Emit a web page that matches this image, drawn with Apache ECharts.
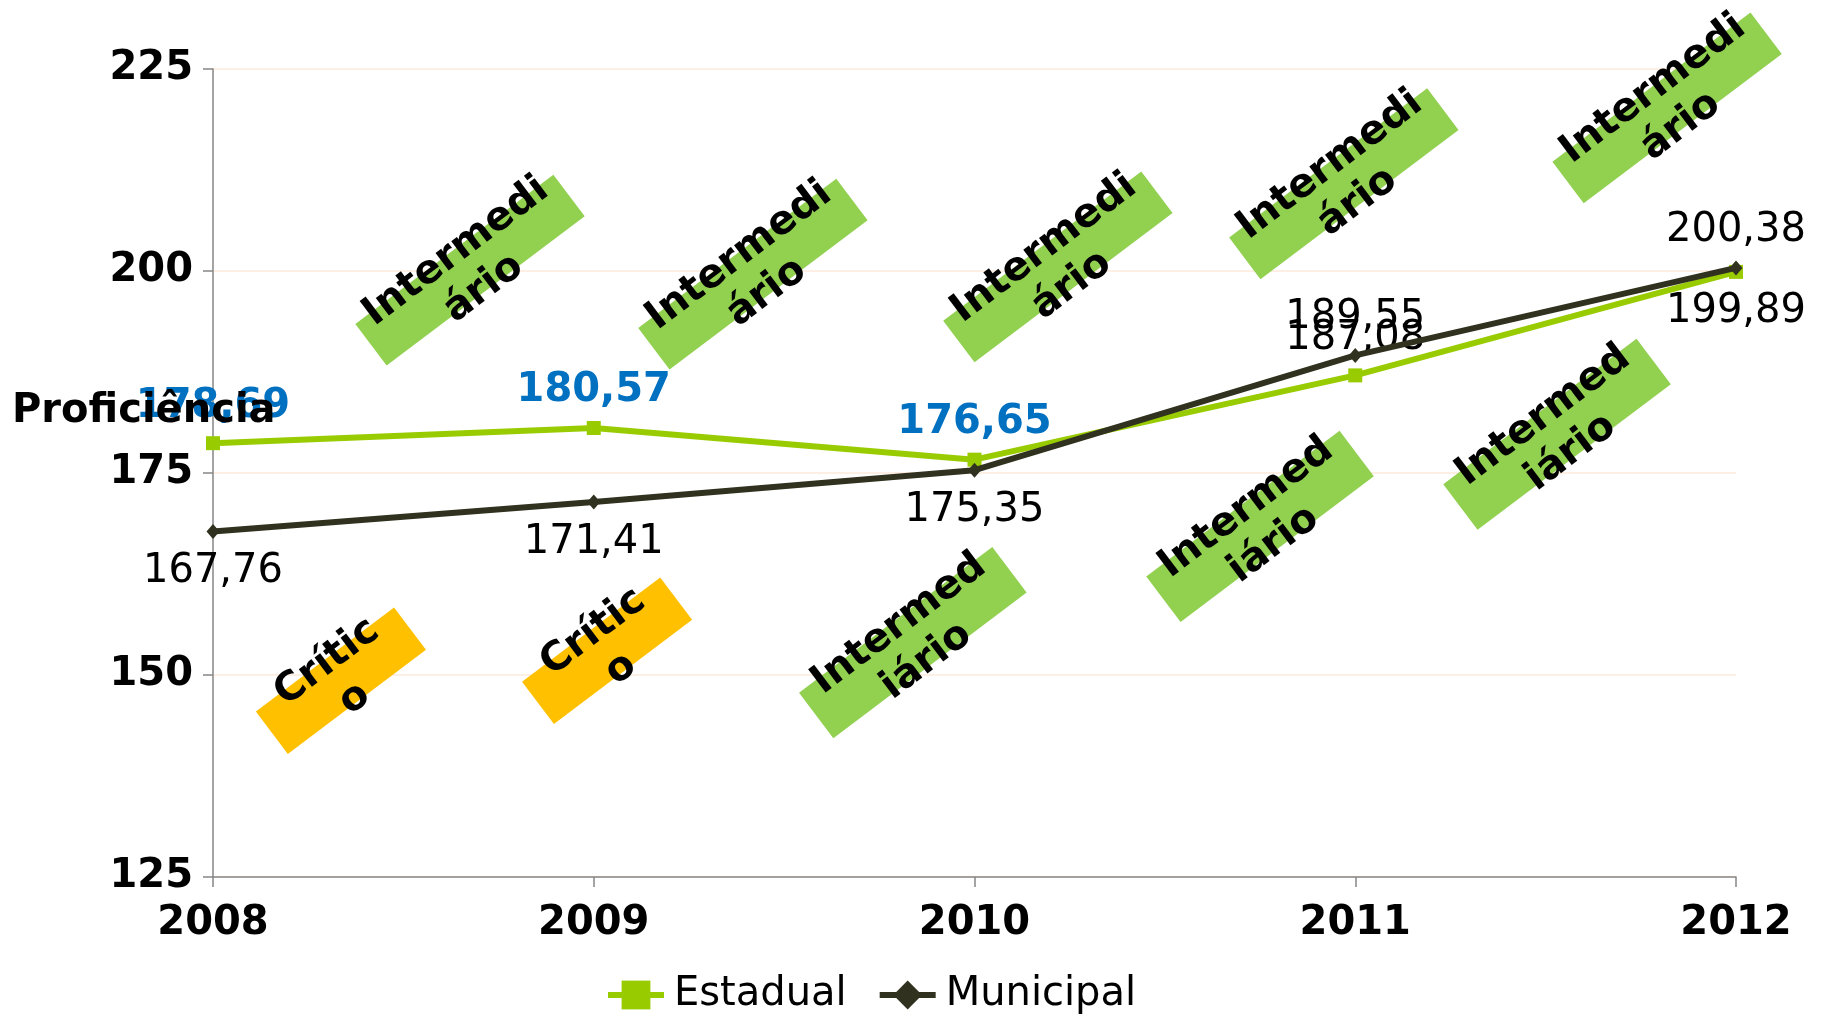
<!DOCTYPE html>
<html>
<head>
<meta charset="utf-8">
<script src="https://cdn.jsdelivr.net/npm/echarts@6/dist/echarts.min.js"></script>
<style>html,body{margin:0;padding:0;background:#fff}#chart{width:1822px;height:1017px}</style>
</head>
<body>
<div id="chart"></div>
<script>
// ---- data ----
const years = [2008, 2009, 2010, 2011, 2012];
const estadual = [178.69, 180.57, 176.65, 187.08, 199.89];
const municipal = [167.76, 171.41, 175.35, 189.55, 200.38];
const yTicks = [125, 150, 175, 200, 225];
// proficiency level per year (Estadual row above, Municipal row below)
const estadualLevels = ['Intermedi\nário', 'Intermedi\nário', 'Intermedi\nário', 'Intermedi\nário', 'Intermedi\nário'];
const municipalLevels = ['Crític\no', 'Crític\no', 'Intermed\niário', 'Intermed\niário', 'Intermed\niário'];

// ---- layout (annotation anchors in data space, label placement) ----
const estadualBoxAt = [[2008.675, 200.1], [2009.418, 199.6], [2010.219, 200.5], [2010.970, 210.8], [2011.819, 220.2]];
const municipalBoxAt = [[2008.336, 149.3], [2009.035, 153.0], [2009.838, 154.0], [2010.750, 168.4], [2011.530, 179.8]];
const estadualLabelPos = ['top', 'top', 'top', 'top', 'bottom'];
const estadualLabelBlue = [true, true, true, false, false];
const municipalLabelPos = ['bottom', 'bottom', 'bottom', 'top', 'top'];

const FONT = 'DejaVu Sans';
const fmt = v => v.toFixed(2).replace('.', ',');

const boxData = [];
estadualLevels.forEach((t, i) => boxData.push({ value: [estadualBoxAt[i][0], estadualBoxAt[i][1]], text: t }));
municipalLevels.forEach((t, i) => boxData.push({ value: [municipalBoxAt[i][0], municipalBoxAt[i][1]], text: t }));

function boxStyle(text) {
  if (text.indexOf('Crític') === 0) return { w: 173, h: 53, fill: '#FFC000' };
  if (text.indexOf('Intermed\n') === 0) return { w: 242, h: 57, fill: '#92D050' };
  return { w: 248, h: 52, fill: '#92D050' };
}

const chart = echarts.init(document.getElementById('chart'));
chart.setOption({
  animation: false,
  backgroundColor: '#ffffff',
  textStyle: { fontFamily: FONT },
  title: {
    text: 'Proficiência',
    left: 12, top: 392,
    padding: 0,
    textStyle: { fontFamily: FONT, fontSize: 40, fontWeight: 'bold', color: '#000' }
  },
  grid: { left: 213, right: 86, top: 69, bottom: 140, containLabel: false },
  legend: {
    data: ['Estadual', 'Municipal'],
    left: 600, top: 970,
    itemWidth: 56, itemHeight: 36, itemGap: 30,
    lineStyle: { width: 6 },
    textStyle: { fontFamily: FONT, fontSize: 40, color: '#000', padding: [0, 0, 0, 5] }
  },
  xAxis: {
    type: 'value', min: 2008, max: 2012, interval: 1,
    axisLine: { show: true, lineStyle: { color: '#868686', width: 1.5 } },
    axisTick: { show: true, length: 10, lineStyle: { color: '#868686', width: 1.5 } },
    splitLine: { show: false },
    axisLabel: { fontFamily: FONT, fontSize: 40, fontWeight: 'bold', color: '#000', margin: 27, formatter: v => String(v) }
  },
  yAxis: {
    type: 'value', min: yTicks[0], max: yTicks[yTicks.length - 1], interval: 25,
    axisLine: { show: true, lineStyle: { color: '#868686', width: 1.5 } },
    axisTick: { show: true, length: 10, lineStyle: { color: '#868686', width: 1.5 } },
    splitLine: { show: true, lineStyle: { color: '#FDEADA', width: 1.5 } },
    axisLabel: { fontFamily: FONT, fontSize: 40, fontWeight: 'bold', color: '#000', margin: 20 }
  },
  series: [
    {
      name: 'Estadual', type: 'line',
      data: years.map((y, i) => ({
        value: [y, estadual[i]],
        label: {
          show: true,
          position: estadualLabelPos[i],
          distance: estadualLabelPos[i] === 'top' ? 10 : 13,
          formatter: fmt(estadual[i]),
          fontFamily: FONT, fontSize: 40,
          fontWeight: estadualLabelBlue[i] ? 'bold' : 'normal',
          color: estadualLabelBlue[i] ? '#0070C0' : '#000'
        }
      })),
      symbol: 'rect', symbolSize: 14,
      itemStyle: { color: '#99CC00' },
      lineStyle: { color: '#99CC00', width: 6 },
      z: 3
    },
    {
      name: 'Municipal', type: 'line',
      data: years.map((y, i) => ({
        value: [y, municipal[i]],
        label: {
          show: true,
          position: municipalLabelPos[i],
          distance: municipalLabelPos[i] === 'top' ? 10 : 13,
          formatter: fmt(municipal[i]),
          fontFamily: FONT, fontSize: 40, color: '#000'
        }
      })),
      symbol: 'diamond', symbolSize: [13, 15],
      itemStyle: { color: '#31311F' },
      lineStyle: { color: '#31311F', width: 6 },
      z: 4
    },
    {
      name: 'levels', type: 'custom',
      data: boxData,
      clip: false,
      z: 5,
      renderItem: function (params, api) {
        const p = api.coord([api.value(0), api.value(1)]);
        const text = boxData[params.dataIndex].text;
        const s = boxStyle(text);
        return {
          type: 'group',
          x: p[0], y: p[1],
          rotation: 37 * Math.PI / 180,
          children: [
            { type: 'rect', shape: { x: -s.w / 2, y: -s.h / 2, width: s.w, height: s.h }, style: { fill: s.fill } },
            { type: 'text', style: { text: text, x: 0, y: 0, align: 'center', verticalAlign: 'middle',
              font: 'bold 40px "DejaVu Sans"', lineHeight: 46, fill: '#000' } }
          ]
        };
      }
    }
  ]
});
</script>
</body>
</html>
